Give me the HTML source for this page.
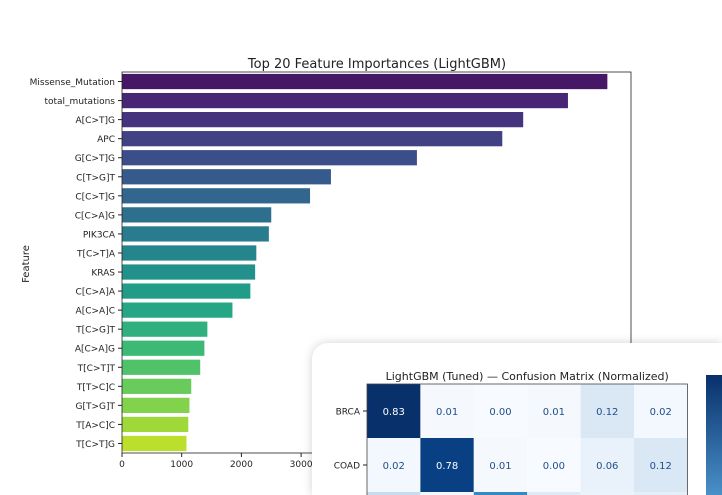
<!DOCTYPE html>
<html style="overflow:hidden;width:722px;height:495px"><head><meta charset="utf-8"><style>
html,body{margin:0;padding:0;}
body{width:722px;height:495px;overflow:hidden;background:#fff;font-family:"DejaVu Sans","Liberation Sans",sans-serif;position:relative;}
svg{display:block;}
#card{position:absolute;left:312px;top:343px;width:410px;height:152px;background:#fff;border-radius:16px 0 0 0;box-shadow:0 0 10px rgba(0,0,0,0.18);overflow:hidden;}
</style></head><body>
<svg id="chart" width="722" height="495" style="position:absolute;left:0;top:0"></svg>
<div id="card">
<svg id="cm" width="410" height="152"></svg>
</div>
<script>
const features=["Missense_Mutation","total_mutations","A[C>T]G","APC","G[C>T]G","C[T>G]T","C[C>T]G","C[C>A]G","PIK3CA","T[C>T]A","KRAS","C[C>A]A","A[C>A]C","T[C>G]T","A[C>A]G","T[C>T]T","T[T>C]C","G[T>G]T","T[A>C]C","T[C>T]G"];
const importances=[8130,7470,6720,6370,4940,3500,3150,2500,2460,2250,2230,2150,1850,1430,1380,1310,1160,1130,1110,1080];
const xTicks=[0,1000,2000,3000,4000,5000,6000,7000,8000];
const classes=["BRCA","COAD","X3","X4","X5","X6"];
const cmRow0=[0.83,0.01,0.00,0.01,0.12,0.02];
const cmRow1=[0.02,0.78,0.01,0.00,0.06,0.12];
const cmRow2=[0.20,0.02,0.55,0.10,0.05,0.08];
const cmRows=[cmRow0,cmRow1,cmRow2];

const NS="http://www.w3.org/2000/svg";
function mk(p,t,a){const e=document.createElementNS(NS,t);for(const k in a)e.setAttribute(k,a[k]);p.appendChild(e);return e;}
const svg=document.getElementById('chart');
const L=122,R=631,T=72,B=453;
const xs=v=>L+v*0.0597;
const bandH=(B-T)/features.length;
const ys=i=>T+bandH*i+bandH/2;
const vir=[[68,1,84],[72,40,120],[62,74,137],[49,104,142],[38,130,142],[31,158,137],[53,183,121],[109,205,89],[180,222,44],[253,231,37]];
function viridis(t){const s=t*(vir.length-1),i=Math.min(Math.floor(s),vir.length-2),f=s-i;const c=vir[i].map((v,k)=>Math.round(v+(vir[i+1][k]-v)*f));return `rgb(${c})`;}
let tt=mk(svg,'text',{x:377,y:68,'text-anchor':'middle','font-size':13,fill:'#222'});tt.textContent="Top 20 Feature Importances (LightGBM)";


features.forEach((f,i)=>{
 const r=mk(svg,'rect',{x:L,y:ys(i)-bandH*0.4,width:xs(importances[i])-L,height:bandH*0.8,fill:viridis(0.06+0.84*i/(features.length-1))});
 
 
 mk(svg,'line',{x1:L-4,x2:L,y1:ys(i),y2:ys(i),stroke:'#222'});
 const t=mk(svg,'text',{x:L-7,y:ys(i)+3.5,'text-anchor':'end','font-size':9,fill:'#222'});t.textContent=f;
 
 
});
xTicks.forEach(v=>{const x=xs(v);if(x>R)return;
 mk(svg,'line',{x1:x,x2:x,y1:B,y2:B+4,stroke:'#222'});
 const t=mk(svg,'text',{x:x,y:B+14,'text-anchor':'middle','font-size':9,fill:'#222'});t.textContent=v;
 
 
});
mk(svg,'rect',{x:L,y:T,width:R-L,height:B-T,fill:'none',stroke:'#222','stroke-width':0.8});
const yl=mk(svg,'text',{x:29,y:264,'text-anchor':'middle','font-size':10,fill:'#222',transform:'rotate(-90 29 264)'});yl.textContent="Feature";



const cm=document.getElementById('cm');
const cx0=55,cy0=41,cw=53.4,ch=54;
const bl=[[247,251,255],[222,235,247],[198,219,239],[158,202,225],[107,174,214],[66,146,198],[33,113,181],[8,81,156],[8,48,107]];
function blues(v){const t=Math.min(1,v/0.83);const s=t*(bl.length-1),i=Math.min(Math.floor(s),bl.length-2),f=s-i;return `rgb(${bl[i].map((x,k)=>Math.round(x+(bl[i+1][k]-x)*f))})`;}
let ct=mk(cm,'text',{x:cx0+3*cw,y:37,'text-anchor':'middle','font-size':11,fill:'#222'});ct.textContent="LightGBM (Tuned) — Confusion Matrix (Normalized)";


cmRows.forEach((row,r)=>row.forEach((v,c)=>{
 const y=cy0+r*ch;const h=Math.min(ch,152-y);
 const rc=mk(cm,'rect',{x:cx0+c*cw,y:y,width:cw,height:h,fill:blues(v)});
 
 
 if(y+ch/2+4<152){
 const t=mk(cm,'text',{x:cx0+c*cw+cw/2,y:y+ch/2+4,'text-anchor':'middle','font-size':10,fill:v>0.5?'#fff':'#1f4e8a'});t.textContent=v.toFixed(2);
 
 }
}));
mk(cm,'rect',{x:cx0,y:cy0,width:cw*6,height:152-cy0+2,fill:'none',stroke:'#444','stroke-width':0.8});
classes.slice(0,2).forEach((c,i)=>{
 mk(cm,'line',{x1:cx0-4,x2:cx0,y1:cy0+i*ch+ch/2,y2:cy0+i*ch+ch/2,stroke:'#222'});
 const t=mk(cm,'text',{x:cx0-7,y:cy0+i*ch+ch/2+3.5,'text-anchor':'end','font-size':9,fill:'#222'});t.textContent=c;
 
 
});
const grad=mk(cm,'defs',{});
const lg=mk(grad,'linearGradient',{id:'cbg',x1:0,y1:0,x2:0,y2:1});
mk(lg,'stop',{offset:'0','stop-color':'#08306b'});
mk(lg,'stop',{offset:'1','stop-color':'#4a90c8'});
const cb=mk(cm,'rect',{x:394,y:32,width:16,height:120,fill:'url(#cbg)'});


</script>
</body></html>
